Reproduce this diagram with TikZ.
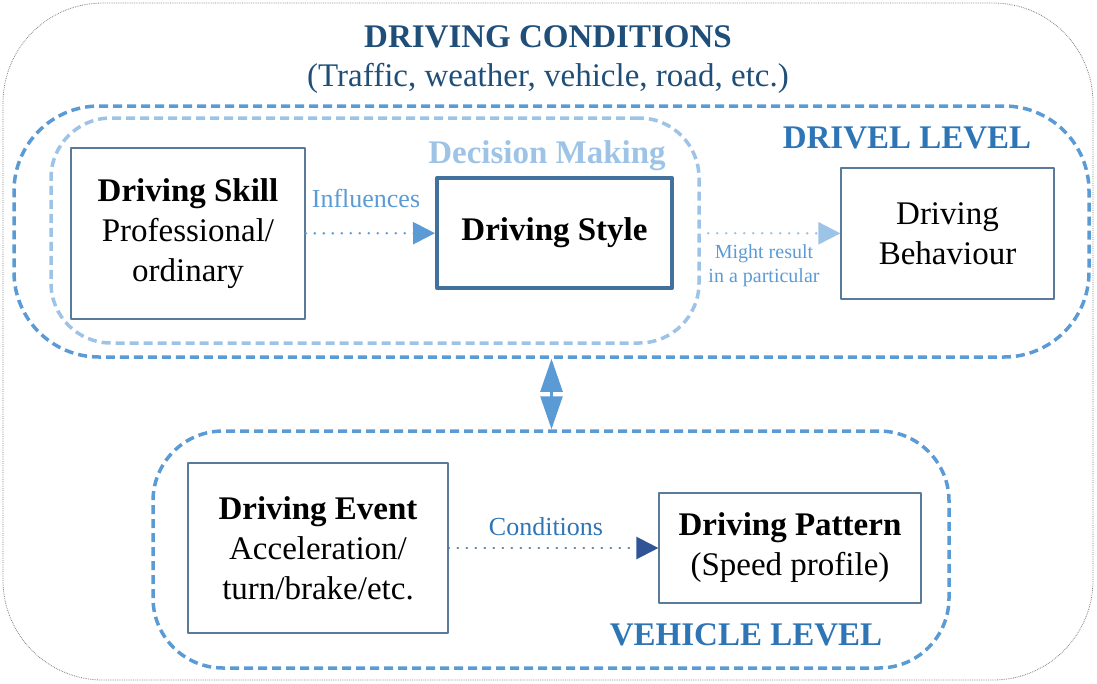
\documentclass[tikz,border=0pt]{standalone}
\usepackage{fontspec}
\setmainfont{Liberation Serif}
\usetikzlibrary{arrows.meta}
\definecolor{titleblue}{HTML}{1F4E79}
\definecolor{levelblue}{HTML}{2E75B6}
\definecolor{dashblue}{HTML}{5B9BD5}
\definecolor{paleblue}{HTML}{9DC3E6}
\definecolor{boxline}{HTML}{5A7A99}
\definecolor{styleline}{HTML}{41719C}
\definecolor{darkhead}{HTML}{2F5597}
\tikzset{
  big/.style={font=\fontsize{33}{40}\selectfont},
  bigbold/.style={font=\bfseries\fontsize{33}{40}\selectfont},
  box/.style={draw=boxline, line width=1.2pt, inner sep=0pt, align=center, big},
  levelbox/.style={draw=dashblue, line width=3.5pt, dash pattern=on 9pt off 5pt, rounded corners=#1, inner sep=0pt},
  levelbox/.default=70pt,
  flow/.style={line width=2.4pt, line cap=round, dash pattern=on 0.4pt off 8.6pt},
  tip/.style={-{Triangle[length=22pt,width=22pt,color=#1]}}
}
\begin{document}
\begin{tikzpicture}[x=1pt, y=-1pt, line join=round]
\useasboundingbox (0,0) rectangle (1097,683);
% surrounding conditions
\draw[draw=gray, line width=0.8pt, dash pattern=on 0.8pt off 1pt, rounded corners=100pt] (3,3) rectangle (1093,680);
\node[bigbold, text=titleblue, anchor=base] (cond) at (548,47) {DRIVING CONDITIONS};
\node[big, text=titleblue, anchor=base] (condlist) at (548,86) {(Traffic, weather, vehicle, road, etc.)};
% levels
\node[levelbox=85pt, minimum width=1075pt, minimum height=251pt] (driverlvl) at (551.5,231.5) {};
\node[levelbox=60pt, draw=paleblue, minimum width=648pt, minimum height=225pt] (decision) at (375,230.5) {};
\node[levelbox=70pt, minimum width=796pt, minimum height=237pt] (vehiclelvl) at (551,549.5) {};
\node[bigbold, text=paleblue, anchor=base] (decisionlbl) at (547,163) {Decision Making};
\node[bigbold, text=levelblue, anchor=base] (driverlbl) at (907,148) {DRIVEL LEVEL};
\node[bigbold, text=levelblue, anchor=base] (vehiclelbl) at (746,645) {VEHICLE LEVEL};
% boxes
\node[box, minimum width=234pt, minimum height=171pt] (skill) at (188,233.5) {\textbf{Driving Skill}\\Professional/\\ordinary};
\node[box, draw=styleline, line width=4pt, minimum width=235pt, minimum height=110pt] (style) at (554.5,233) {\textbf{Driving Style}};
\node[box, minimum width=213pt, minimum height=131pt] (behaviour) at (947.5,233.5) {Driving\\Behaviour};
\node[box, minimum width=260pt, minimum height=170pt] (event) at (318,548) {\textbf{Driving Event}\\Acceleration/\\turn/brake/etc.};
\node[box, minimum width=262pt, minimum height=110pt] (pattern) at (790,548) {\textbf{Driving Pattern}\\(Speed profile)};
% connectors
\draw[flow, draw=dashblue, tip=dashblue] (skill) -- (style);
\node[font=\fontsize{26}{30}\selectfont, text=dashblue, anchor=base] (influences) at (366,207) {Influences};
\draw[flow, draw=paleblue, tip=paleblue, shorten <=34pt] (style) -- (behaviour);
\node[font=\fontsize{20}{24}\selectfont, text=dashblue, align=center] (result) at (764,266) {Might result\\in a particular};
\draw[flow, draw=boxline, tip=darkhead] (event) -- (pattern);
\node[font=\fontsize{26}{30}\selectfont, text=levelblue, anchor=base] (conditions) at (546,535) {Conditions};
\draw[draw=dashblue, line width=2.5pt, {Triangle[length=33pt,width=22pt]}-{Triangle[length=33pt,width=22pt]}] (driverlvl.south) -- (driverlvl.south |- vehiclelvl.north);
\end{tikzpicture}
\end{document}
